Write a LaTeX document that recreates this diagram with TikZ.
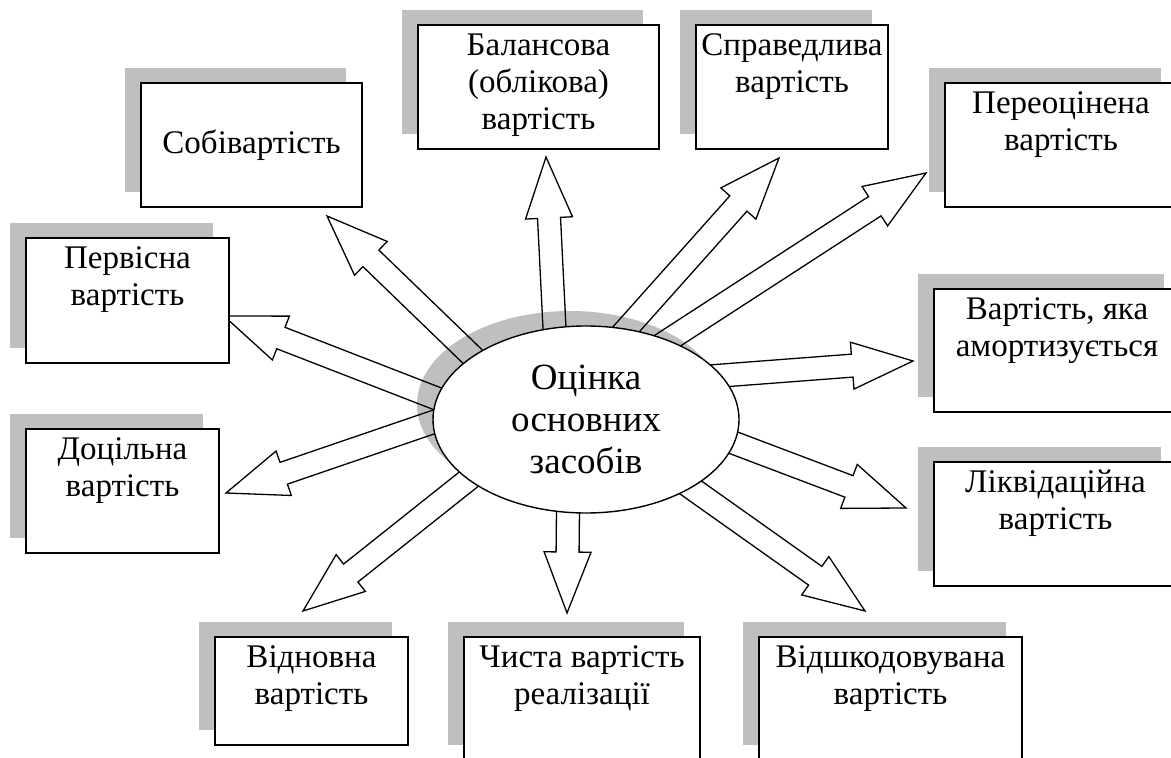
\documentclass[tikz,border=0pt]{standalone}
\usepackage{fontspec}
\setmainfont{Liberation Serif}
\usetikzlibrary{calc,shapes.geometric,shadows}
\definecolor{boxgray}{RGB}{191,191,191}
\pgfdeclarelayer{shadowlayer}
\pgfdeclarelayer{arrowlayer}
\pgfsetlayers{shadowlayer,arrowlayer,main}
\tikzset{box/.style={draw, rectangle, fill=white, line width=0.85pt,
  inner sep=0pt, outer sep=0pt,
  drop shadow={shadow xshift=-8pt, shadow yshift=7.5pt, fill=boxgray, opacity=1}}}
\tikzset{txt/.style={anchor=north, align=center, inner sep=0pt,
  font=\fontsize{16.5}{18.5}\selectfont}}
\tikzset{oval/.style={ellipse, draw, fill=white, line width=0.7pt,
  inner sep=0pt, outer sep=0pt, minimum width=153pt, minimum height=93.5pt,
  align=center, font=\fontsize{18.5}{21}\selectfont}}
\tikzset{fat/.style={draw, line width=0.65pt}}
% block arrow: #1 start on the oval, #2 tip
\newcommand{\fatarrow}[2]{%
  \coordinate (fa-h) at ($(#2)!30.5pt!(#1)$);
  \coordinate (fa-s) at ($(#1)!-12pt!(#2)$);
  \draw[fat] ($(fa-s)!5.75pt!90:(#2)$) -- ($(fa-h)!5.75pt!90:(#2)$)
    -- ($(fa-h)!11.75pt!90:(#2)$) -- (#2) -- ($(fa-h)!11.75pt!-90:(#2)$)
    -- ($(fa-h)!5.75pt!-90:(#2)$) -- ($(fa-s)!5.75pt!-90:(#2)$) -- cycle;
}

\begin{document}
\begin{tikzpicture}[x=0.5pt, y=-0.5pt]
  \useasboundingbox (0,0) rectangle (1171,758);
  \clip (0,0) rectangle (1171,758);

  % centre
  \node[oval] (ocinka) at (586,419.5) {Оцінка\\основних\\засобів};
  \begin{pgfonlayer}{shadowlayer}
    \fill[boxgray] ($(ocinka.center)+(-16,-15)$) ellipse (153 and 93.5);
  \end{pgfonlayer}

  % boxes
  \node[box, minimum width=110.5pt, minimum height=62pt] (sobi)    at (251.5,145) {};
  \node[box, minimum width=120.5pt, minimum height=62pt] (balans)  at (538.5,87) {};
  \node[box, minimum width=96pt,    minimum height=62pt] (sprav)   at (792,87) {};
  \node[box, minimum width=116pt,   minimum height=62pt] (pereots) at (1061,145) {};
  \node[box, minimum width=123pt,   minimum height=61.5pt] (amort) at (1057,350.5) {};
  \node[box, minimum width=121.5pt, minimum height=62pt] (likvid)  at (1055.5,524) {};
  \node[box, minimum width=101.5pt, minimum height=62.5pt] (pervis) at (127.5,300.5) {};
  \node[box, minimum width=96.5pt,  minimum height=62pt] (dotsil)  at (122.5,491) {};
  \node[box, minimum width=96.5pt,  minimum height=54pt] (vidnov)  at (311.5,691) {};
  \node[box, minimum width=118pt,   minimum height=61.5pt] (chysta) at (582,698.5) {};
  \node[box, minimum width=131.5pt, minimum height=61.5pt] (vidshk) at (890.5,698.5) {};

  % texts
  \node[txt] (sobi-t)    at ($(sobi.north)+(0,46)$)   {Собівартість};
  \node[txt] (balans-t)  at ($(balans.north)+(0,8)$)  {Балансова\\(облікова)\\вартість};
  \node[txt] (sprav-t)   at ($(sprav.north)+(0,8)$)   {Справедлива\\вартість};
  \node[txt] (pereots-t) at ($(pereots.north)+(0,8)$) {Переоцінена\\вартість};
  \node[txt] (amort-t)   at ($(amort.north)+(0,8)$)   {Вартість, яка\\амортизується};
  \node[txt] (likvid-t)  at ($(likvid.north)+(0,8)$)  {Ліквідаційна\\вартість};
  \node[txt] (pervis-t)  at ($(pervis.north)+(0,8)$)  {Первісна\\вартість};
  \node[txt] (dotsil-t)  at ($(dotsil.north)+(0,8)$)  {Доцільна\\вартість};
  \node[txt] (vidnov-t)  at ($(vidnov.north)+(0,8)$)  {Відновна\\вартість};
  \node[txt] (chysta-t)  at ($(chysta.north)+(0,8)$)  {Чиста вартість\\реалізації};
  \node[txt] (vidshk-t)  at ($(vidshk.north)+(0,8)$)  {Відшкодовувана\\вартість};

  % arrow tips
  \coordinate (sobi-a)    at (327,216);
  \coordinate (balans-a)  at (546,157);
  \coordinate (sprav-a)   at (779,158);
  \coordinate (pereots-a) at (926,173);
  \coordinate (amort-a)   at (913,361);
  \coordinate (likvid-a)  at (906,508);
  \coordinate (vidshk-a)  at (865,611);
  \coordinate (chysta-a)  at (567,613);
  \coordinate (vidnov-a)  at (303,611);
  \coordinate (dotsil-a)  at (226,493);
  \coordinate (pervis-a)  at (224,316);

  % arrows
  \begin{pgfonlayer}{arrowlayer}
    \fatarrow{ocinka.151}{sobi-a}
    \fatarrow{ocinka.109}{balans-a}
    \fatarrow{ocinka.66}{sprav-a}
    \fatarrow{ocinka.44}{pereots-a}
    \fatarrow{ocinka.18}{amort-a}
    \fatarrow{ocinka.351}{likvid-a}
    \fatarrow{ocinka.327}{vidshk-a}
    \fatarrow{ocinka.259}{chysta-a}
    \fatarrow{ocinka.207}{vidnov-a}
    \fatarrow{ocinka.181}{dotsil-a}
    \fatarrow{ocinka.172}{pervis-a}
  \end{pgfonlayer}
\end{tikzpicture}
\end{document}
